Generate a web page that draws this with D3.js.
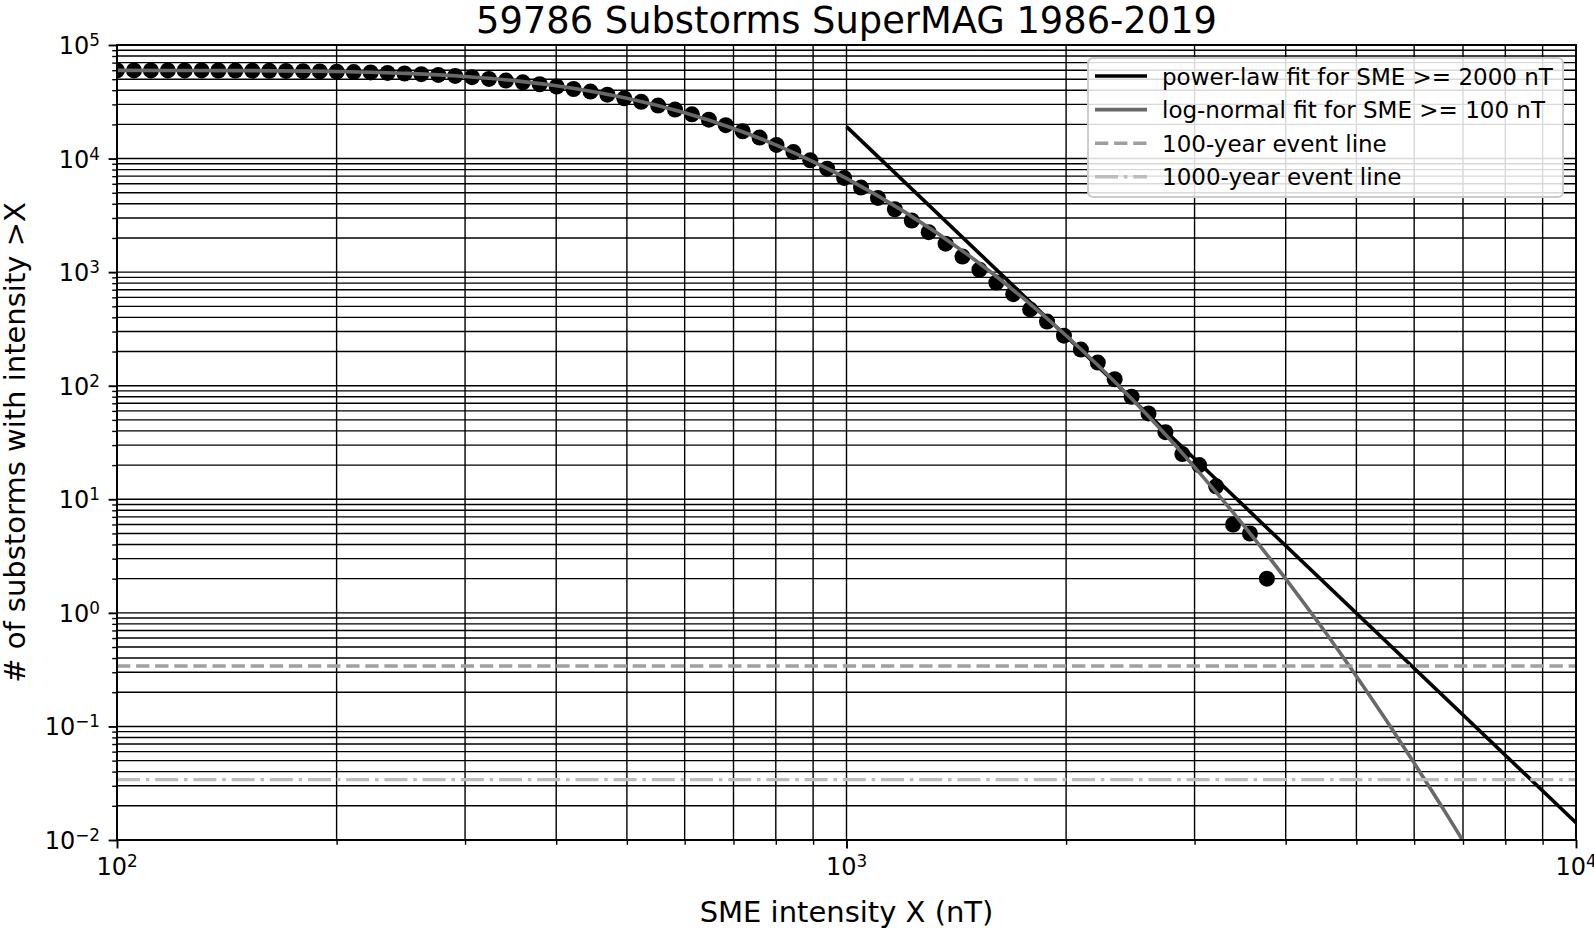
<!DOCTYPE html>
<html>
<head>
<meta charset="utf-8">
<script src="https://cdn.jsdelivr.net/npm/d3@7"></script>
<style>
  body { margin: 0; background: #fff; }
  text { font-family: "DejaVu Sans", sans-serif; fill: #000; }
</style>
</head>
<body>
<div id="chart"></div>
<script>
// SME threshold (nT) of each point and number of substorms above it
var smeX = [100.0, 105.5, 111.3, 117.4, 123.8, 130.6, 137.7, 145.3, 153.3, 161.7,
  170.5, 179.9, 189.7, 200.1, 211.1, 222.7, 234.9, 247.8, 261.3, 275.7,
  290.8, 306.7, 323.5, 341.3, 360.0, 379.7, 400.6, 422.5, 445.7, 470.1,
  495.9, 523.1, 551.8, 582.0, 613.9, 647.6, 683.1, 720.5, 760.0, 801.7,
  845.7, 892.0, 940.9, 992.5, 1046.9, 1104.3, 1164.8, 1228.7, 1296.1, 1367.2,
  1442.1, 1521.2, 1604.6, 1692.6, 1785.4, 1883.3, 1986.5, 2095.4, 2210.3, 2331.5,
  2459.3, 2594.1, 2736.3, 2886.4, 3044.6, 3211.5, 3387.6, 3573.3, 3769.2];
var substormCounts = [59786, 59780, 59770, 59760, 59740, 59700, 59640, 59560, 59440, 59280,
  59080, 58850, 58560, 58200, 57780, 57300, 56730, 56080, 55330, 54470,
  53400, 52100, 50300, 48600, 46900, 45100, 43100, 41000, 38900, 36500,
  33900, 31600, 29300, 27000, 24500, 22000, 19700, 17400, 15300, 13200,
  11400, 9650, 8150, 6750, 5550, 4500, 3580, 2850, 2250, 1780,
  1370, 1050, 810, 640, 470, 367, 276, 208, 160, 114,
  80, 57, 39, 25, 20, 13, 6, 5, 2];

// fitted curves
var powerLawX = [1000, 10000];
var powerLawY = [19100, 0.0142];
var logNormalX = [100, 150, 200, 250, 300, 350, 400, 450, 500, 600, 700, 800, 900, 1000, 1200, 1500, 1750,
  2000, 2500, 3000, 3500, 4000, 4500, 5000, 5500, 6000, 6500, 7000, 7200];
var logNormalY = [59765, 59490, 58430, 56220, 52820, 48530, 43730, 38780, 33950, 25300, 18400, 13210, 9416, 6700,
  3410, 1279, 584, 277, 68.9, 19.2, 5.93, 1.99, 0.72, 0.277, 0.112, 0.0477, 0.0212, 0.0098, 0.0072];

// 100-year and 1000-year event levels
var eventLevels = [0.34, 0.034];

var xExponents = [2, 3, 4];
var yExponents = [-2, -1, 0, 1, 2, 3, 4, 5];

var legendLabels = ["power-law fit for SME >= 2000 nT", "log-normal fit for SME >= 100 nT",
  "100-year event line", "1000-year event line"];

var svgWidth = 1594, svgHeight = 928;
var margin = {top: 45, right: 18, bottom: 88, left: 117};
var width = svgWidth - margin.left - margin.right;
var height = svgHeight - margin.top - margin.bottom;

var svg = d3.select("#chart").append("svg")
  .attr("width", svgWidth)
  .attr("height", svgHeight);

var chartGroup = svg.append("g")
  .attr("transform", `translate(${margin.left}, ${margin.top})`);

var xScale = d3.scaleLog().domain([100, 10000]).range([0, width]);
var yScale = d3.scaleLog().domain([0.01, 1e5]).range([height, 0]);

chartGroup.append("clipPath").attr("id", "plotClip")
  .append("rect").attr("width", width).attr("height", height);

// tick values (major + minor) per decade
var xMajor = xExponents.map(e => Math.pow(10, e));
var yMajor = yExponents.map(e => Math.pow(10, e));
var xMinor = [], yMinor = [];
xExponents.slice(0, -1).forEach(function(e) {
  for (var m = 2; m < 10; m++) xMinor.push(m * Math.pow(10, e));
});
yExponents.slice(0, -1).forEach(function(e) {
  for (var m = 2; m < 10; m++) yMinor.push(m * Math.pow(10, e));
});

// grid
var grid = chartGroup.append("g").attr("stroke", "#000").attr("stroke-width", 1.4);
grid.selectAll(".gx").data(xMajor.concat(xMinor)).enter().append("line")
  .attr("x1", d => xScale(d)).attr("x2", d => xScale(d))
  .attr("y1", 0).attr("y2", height);
grid.selectAll(".gy").data(yMajor.concat(yMinor)).enter().append("line")
  .attr("y1", d => yScale(d)).attr("y2", d => yScale(d))
  .attr("x1", 0).attr("x2", width);

// axes ticks
function styleAxis(g, w) {
  g.select(".domain").remove();
  g.selectAll(".tick line").attr("stroke", "#000").attr("stroke-width", w);
}
chartGroup.append("g").attr("transform", `translate(0, ${height})`)
  .call(d3.axisBottom(xScale).tickValues(xMajor).tickSize(8.4).tickFormat(""))
  .call(g => styleAxis(g, 1.9));
chartGroup.append("g").attr("transform", `translate(0, ${height})`)
  .call(d3.axisBottom(xScale).tickValues(xMinor).tickSize(4.8).tickFormat(""))
  .call(g => styleAxis(g, 1.4));
chartGroup.append("g")
  .call(d3.axisLeft(yScale).tickValues(yMajor).tickSize(8.4).tickFormat(""))
  .call(g => styleAxis(g, 1.9));
chartGroup.append("g")
  .call(d3.axisLeft(yScale).tickValues(yMinor).tickSize(4.8).tickFormat(""))
  .call(g => styleAxis(g, 1.4));

// tick labels as 10^n
function powerLabel(sel) {
  sel.append("tspan").text("10");
  sel.append("tspan").attr("dy", -8).attr("font-size", 16.8)
    .text(d => String(d).replace("-", "\u2212"));
}
chartGroup.selectAll(".xlab").data(xExponents).enter().append("text")
  .attr("x", d => xScale(Math.pow(10, d)))
  .attr("y", height + 35)
  .attr("text-anchor", "middle")
  .attr("font-size", 24)
  .call(powerLabel);
chartGroup.selectAll(".ylab").data(yExponents).enter().append("text")
  .attr("x", -17)
  .attr("y", d => yScale(Math.pow(10, d)) + 9)
  .attr("text-anchor", "end")
  .attr("font-size", 24)
  .call(powerLabel);

// data and fits
var plot = chartGroup.append("g").attr("clip-path", "url(#plotClip)");

plot.selectAll("circle").data(smeX).enter().append("circle")
  .attr("cx", d => xScale(d))
  .attr("cy", (d, i) => yScale(substormCounts[i]))
  .attr("r", 8)
  .attr("fill", "#000");

var line = d3.line().x(d => xScale(d[0])).y(d => yScale(d[1]));

plot.append("path")
  .datum(d3.zip(powerLawX, powerLawY))
  .attr("d", line)
  .attr("fill", "none").attr("stroke", "#000").attr("stroke-width", 3.6);

plot.append("path")
  .datum(d3.zip(logNormalX, logNormalY))
  .attr("d", line.curve(d3.curveMonotoneX))
  .attr("fill", "none").attr("stroke", "#696969").attr("stroke-width", 3.6);

var eventStyles = [
  {color: "#a0a0a0", dash: "13.3,5.8"},
  {color: "#bdbdbd", dash: "23,5.8,3.6,5.8"}
];
plot.selectAll(".event").data(eventLevels).enter().append("line")
  .attr("x1", 0).attr("x2", width)
  .attr("y1", d => yScale(d)).attr("y2", d => yScale(d))
  .attr("stroke", (d, i) => eventStyles[i].color)
  .attr("stroke-dasharray", (d, i) => eventStyles[i].dash)
  .attr("stroke-width", 3.4);

// frame
chartGroup.append("rect")
  .attr("width", width).attr("height", height)
  .attr("fill", "none").attr("stroke", "#000").attr("stroke-width", 1.9);

// legend
var legendStyles = [
  {color: "#000", dash: null},
  {color: "#696969", dash: null},
  eventStyles[0],
  eventStyles[1]
];
var legend = svg.append("g").attr("transform", "translate(1088, 58)");
legend.append("rect")
  .attr("width", 475).attr("height", 139)
  .attr("rx", 5).attr("ry", 5)
  .attr("fill", "#fff").attr("fill-opacity", 0.85)
  .attr("stroke", "#cccccc").attr("stroke-width", 1.9);
var rows = legend.selectAll(".row").data(legendLabels).enter().append("g")
  .attr("transform", (d, i) => `translate(0, ${18 + i * 33.6})`);
rows.append("line")
  .attr("x1", 7).attr("x2", 59)
  .attr("stroke", (d, i) => legendStyles[i].color)
  .attr("stroke-dasharray", (d, i) => legendStyles[i].dash)
  .attr("stroke-width", 3.6);
rows.append("text")
  .attr("x", 74).attr("y", 8.5)
  .attr("font-size", 23)
  .text(d => d);

// titles
svg.append("text")
  .attr("x", margin.left + width / 2).attr("y", 32.5)
  .attr("text-anchor", "middle").attr("font-size", 36.8)
  .text("59786 Substorms SuperMAG 1986-2019");

svg.append("text")
  .attr("x", margin.left + width / 2).attr("y", 921.5)
  .attr("text-anchor", "middle").attr("font-size", 29)
  .text("SME intensity X (nT)");

svg.append("text")
  .attr("transform", `translate(25, ${margin.top + height / 2}) rotate(-90)`)
  .attr("text-anchor", "middle").attr("font-size", 29)
  .text("# of substorms with intensity >X");
</script>
</body>
</html>
